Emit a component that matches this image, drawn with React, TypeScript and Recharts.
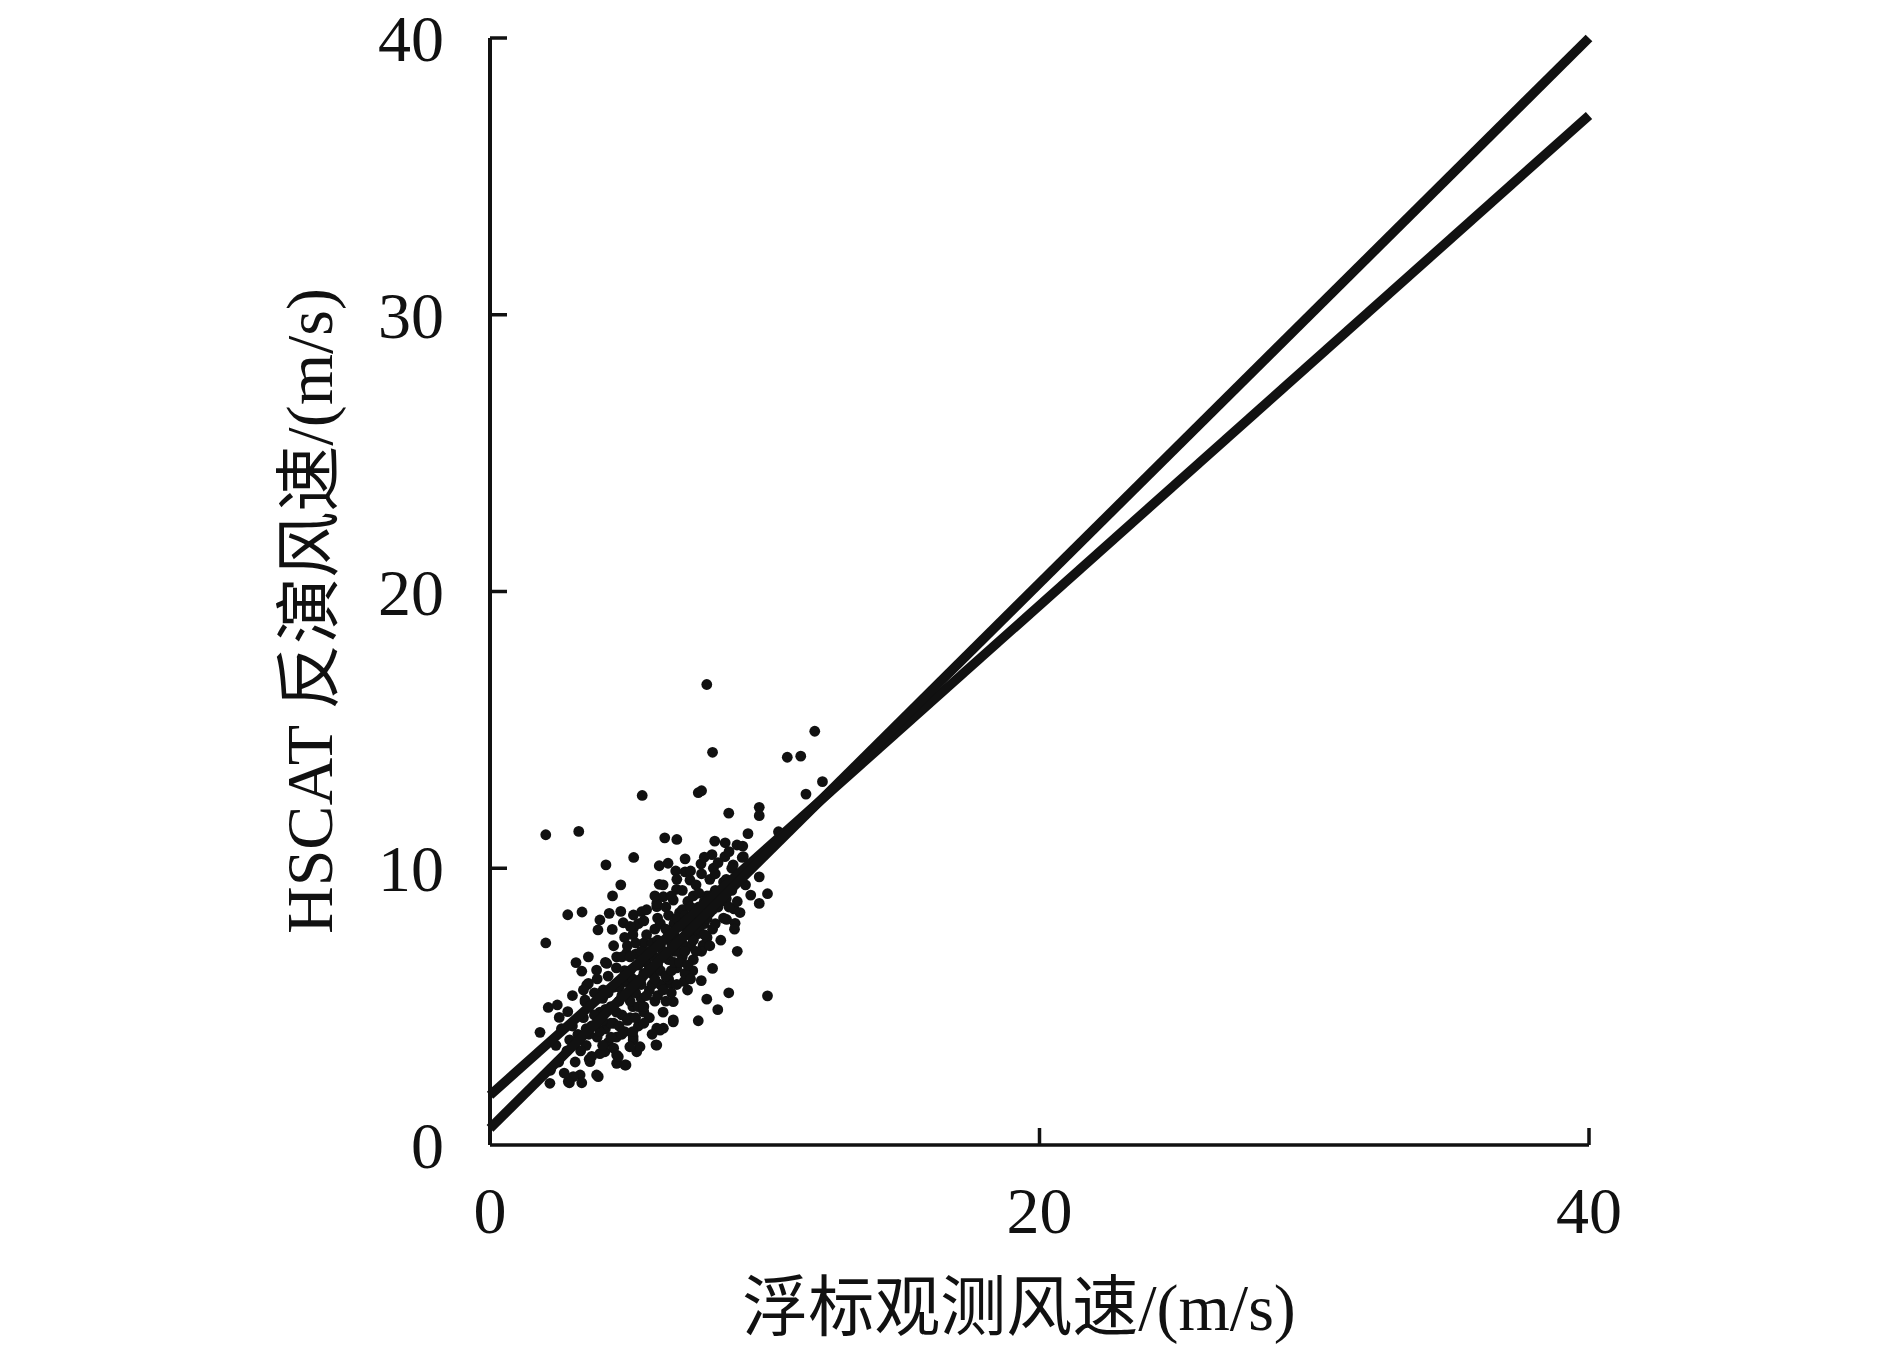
import { ScatterChart, Scatter, XAxis, YAxis, Label } from 'recharts';

// 浮标 vs HSCAT 风速散点 (x, y) — 读图估计
const outerPoints: [number, number][] = [
  [7.89, 16.64], [8.1, 14.19], [11.82, 14.95], [10.82, 14.01], [11.31, 14.05], [12.1, 13.13],
  [11.5, 12.68], [5.54, 12.63], [7.58, 12.73], [7.7, 12.8], [8.69, 11.99], [9.8, 12.2],
  [9.8, 11.9], [2.03, 11.21], [3.23, 11.33], [6.36, 11.1], [6.8, 11.04], [9.39, 11.25],
  [10.5, 11.32], [4.22, 10.12], [5.23, 10.39], [7.1, 10.34], [8.18, 10.98], [8.56, 10.92],
  [8.99, 10.84], [9.18, 10.39], [7.68, 10.16], [8.08, 10.49], [6.16, 10.09], [6.48, 10.18],
  [6.76, 9.9], [4.76, 9.4], [4.46, 9.0], [6.16, 9.42], [6.79, 9.24], [2.83, 8.32],
  [3.35, 8.42], [2.03, 7.3], [9.8, 9.69], [9.49, 9.03], [10.1, 9.08], [9.8, 8.73],
  [8.88, 8.53], [8.61, 8.15], [8.92, 8.01], [4.0, 8.13], [4.34, 8.37], [4.76, 8.44],
  [4.85, 8.03], [4.45, 7.79], [3.93, 7.77], [5.22, 8.31], [5.52, 8.43], [5.22, 7.83],
  [6.07, 8.61], [6.07, 8.73], [6.31, 8.97], [6.67, 8.85], [8.55, 10.42], [8.85, 10.12],
  [9.22, 10.42], [8.13, 10.0], [7.1, 9.87], [7.28, 9.57], [7.76, 7.22], [9.0, 7.0],
  [7.76, 7.16], [7.38, 6.3], [8.1, 6.38], [7.69, 5.94], [7.07, 5.91], [7.19, 5.6],
  [8.69, 5.5], [10.1, 5.39], [7.89, 5.27], [8.29, 4.89], [7.58, 4.49], [6.67, 5.18],
  [6.67, 4.45], [6.31, 4.22], [6.07, 4.22], [6.04, 3.62], [5.34, 3.37], [5.21, 3.79],
  [4.61, 2.95], [4.95, 2.89], [4.18, 3.37], [4.61, 3.25], [3.61, 3.1], [3.88, 2.53],
  [3.28, 2.53], [2.89, 2.25], [3.34, 2.25], [2.18, 2.23], [2.12, 4.97], [2.45, 5.06],
  [2.52, 4.61], [2.83, 4.82], [1.82, 4.07], [3.13, 6.59], [3.58, 6.8], [3.34, 6.28],
  [3.52, 5.78], [3.46, 5.24], [4.0, 5.48], [3.88, 6.32], [4.25, 6.56], [4.61, 6.8],
  [4.97, 6.93], [3.46, 5.18], [3.58, 5.84], [4.12, 5.6], [4.49, 5.0], [3.64, 3.01],
  [3.94, 2.47], [3.03, 2.47], [2.85, 2.29], [4.67, 3.19], [4.91, 2.89], [5.21, 3.91],
  [5.46, 3.55], [5.09, 3.55], [6.07, 3.61], [6.19, 4.15], [6.67, 4.52], [6.55, 5.84],
];

const corePoints: [number, number][] = [
  [3.2, 4.0], [3.4, 4.6], [3.5, 3.6], [3.6, 5.0], [3.7, 4.3], [3.8, 5.5], [3.9, 3.9], [3.9, 6.0],
  [4.0, 4.8], [4.0, 3.3], [4.1, 5.3], [4.2, 4.2], [4.3, 6.1], [4.3, 3.7], [4.4, 5.0], [4.5, 5.7],
  [4.5, 4.4], [4.6, 6.4], [4.6, 3.9], [4.7, 5.2], [4.8, 4.7], [4.8, 6.8], [4.9, 5.9], [4.9, 4.1],
  [5.0, 7.2], [5.0, 5.4], [5.1, 6.3], [5.1, 4.6], [5.2, 7.6], [5.2, 5.0], [5.3, 5.8], [5.3, 6.9],
  [5.4, 4.3], [5.4, 8.0], [5.5, 6.0], [5.5, 5.3], [5.6, 7.3], [5.6, 4.8], [5.7, 6.6], [5.7, 8.5],
  [5.8, 5.6], [5.8, 7.0], [5.9, 6.2], [5.9, 4.0], [6.0, 7.8], [6.0, 5.2], [6.0, 9.0], [6.1, 6.5],
  [6.1, 8.2], [6.2, 5.8], [6.2, 7.2], [6.3, 4.8], [6.3, 9.4], [6.4, 6.9], [6.4, 8.6], [6.5, 6.0],
  [6.5, 7.6], [6.6, 5.5], [6.6, 9.0], [6.7, 7.0], [6.7, 8.0], [6.8, 6.4], [6.8, 9.6], [6.9, 7.4],
  [6.9, 8.4], [7.0, 6.8], [7.0, 9.2], [7.1, 7.9], [7.1, 6.2], [7.2, 8.8], [7.3, 7.2], [7.3, 9.9],
  [7.4, 8.2], [7.4, 6.7], [7.5, 9.4], [7.5, 7.6], [7.6, 8.6], [7.7, 7.0], [7.7, 9.8], [7.8, 8.0],
  [7.8, 10.4], [7.9, 9.0], [7.9, 7.5], [8.0, 8.4], [8.0, 9.6], [8.1, 7.8], [8.2, 9.2], [8.3, 10.2],
  [8.3, 8.6], [8.4, 7.4], [8.5, 9.5], [8.6, 8.9], [8.7, 10.6], [8.8, 9.2], [8.9, 7.8], [9.0, 9.8],
  [9.1, 8.4], [9.2, 10.8], [2.6, 4.2], [2.8, 3.4], [3.0, 5.4], [3.1, 3.0], [2.5, 3.0], [2.2, 2.7],
];

const densePoints: [number, number][] = [
  [3.3, 3.4], [3.5, 4.2], [3.7, 3.2], [3.8, 4.7], [4.0, 4.1], [4.1, 3.6], [4.2, 4.9], [4.3, 5.5],
  [4.4, 4.4], [4.5, 3.5], [4.6, 4.8], [4.7, 5.7], [4.7, 4.3], [4.8, 5.4], [4.9, 6.3], [5.0, 4.5],
  [5.0, 5.9], [5.1, 5.2], [5.1, 6.8], [5.2, 4.1], [5.2, 6.0], [5.3, 5.5], [5.3, 7.3], [5.4, 5.0],
  [5.4, 6.5], [5.5, 5.8], [5.5, 7.0], [5.6, 6.2], [5.6, 5.0], [5.7, 5.4], [5.7, 7.6], [5.8, 6.4],
  [5.8, 4.6], [5.9, 5.8], [5.9, 7.3], [6.0, 6.0], [6.0, 6.8], [6.1, 5.4], [6.1, 7.4], [6.2, 6.3],
  [6.2, 8.0], [6.3, 5.6], [6.3, 7.0], [6.4, 6.1], [6.4, 7.8], [6.5, 6.7], [6.5, 8.3], [6.6, 6.3],
  [6.6, 7.3], [6.7, 6.6], [6.7, 7.6], [6.8, 7.0], [6.8, 8.2], [6.9, 6.6], [6.9, 7.9], [7.0, 7.3],
  [7.0, 8.5], [7.1, 7.0], [7.1, 8.3], [7.2, 7.6], [7.2, 6.5], [7.3, 8.0], [7.3, 8.6], [7.4, 7.4],
  [7.4, 9.0], [7.5, 8.0], [7.5, 7.0], [7.6, 7.8], [7.6, 9.1], [7.7, 8.3], [7.8, 7.6], [7.8, 8.8],
  [7.9, 8.2], [8.0, 7.2], [8.0, 9.0], [8.1, 8.5], [8.2, 8.0], [8.2, 9.8], [8.4, 8.8], [8.5, 8.2],
  [8.6, 9.6], [8.7, 8.6], [8.8, 10.0], [9.0, 8.8], [9.3, 9.4], [3.6, 4.0], [3.9, 4.4], [4.1, 4.5],
  [4.4, 3.9], [4.8, 4.0], [5.3, 4.6], [5.6, 4.4], [6.4, 5.2], [6.8, 5.8], [7.3, 6.0], [4.2, 6.6],
  [4.5, 7.2], [4.9, 7.5], [5.1, 7.9], [5.6, 8.1], [3.0, 4.3], [3.4, 5.6], [2.9, 3.8], [2.7, 2.6],
  [2.4, 3.6],
];

// 两条拟合线
const fitA = [{ x: 0, y: 1.8 }, { x: 40, y: 37.2 }];
const fitB = [{ x: 0, y: 0.6 }, { x: 40, y: 40 }];

const xTicks = [0, 20, 40];
const yTicks = [0, 10, 20, 30, 40];

const xTitle = '浮标观测风速/(m/s)';
const yTitle = 'HSCAT 反演风速/(m/s)';

const INK = '#111';
const FONT = "'Liberation Serif', 'Times New Roman', 'Noto Sans CJK SC', serif";

const points = [...outerPoints, ...corePoints, ...densePoints].map(([x, y]) => ({ x, y }));

const XTick = (props: any) => {
  const { x, y, payload } = props;
  return (
    <g>
      {payload.value !== 0 && <line x1={x} y1={y} x2={x} y2={y - 17} stroke={INK} strokeWidth={3.5} />}
      <text x={x} y={y + 88} textAnchor="middle" fontSize={66} fontFamily={FONT} fill={INK}>
        {payload.value}
      </text>
    </g>
  );
};

const YTick = (props: any) => {
  const { x, y, payload } = props;
  return (
    <g>
      {payload.value !== 0 && <line x1={x} y1={y} x2={x + 17} y2={y} stroke={INK} strokeWidth={3.5} />}
      <text x={x - 46} y={y + 23} textAnchor="end" fontSize={66} fontFamily={FONT} fill={INK}>
        {payload.value}
      </text>
    </g>
  );
};

const noDot = () => <g />;

export default function App() {
  return (
    <div style={{ position: 'absolute', left: 0, top: 0, width: 1890, height: 1346, background: '#fff' }}>
      <ScatterChart width={1890} height={1346} margin={{ top: 38, right: 301, bottom: 81, left: 400 }}>
        <XAxis
          type="number"
          dataKey="x"
          domain={[0, 40]}
          ticks={xTicks}
          height={120}
          tickSize={0}
          tickMargin={0}
          tickLine={false}
          axisLine={{ stroke: INK, strokeWidth: 3.5 }}
          tick={XTick}
          interval={0}
        >
          <Label
            content={() => (
              <text x={1019} y={1330} textAnchor="middle" fontSize={66} fontFamily={FONT} fill={INK}>
                {xTitle}
              </text>
            )}
          />
        </XAxis>
        <YAxis
          type="number"
          dataKey="y"
          domain={[0, 40]}
          ticks={yTicks}
          width={90}
          tickSize={0}
          tickMargin={0}
          tickLine={false}
          axisLine={{ stroke: INK, strokeWidth: 4 }}
          tick={YTick}
          interval={0}
        >
          <Label
            content={() => (
              <text
                x={309}
                y={611}
                transform="rotate(-90 309 611)"
                textAnchor="middle"
                dominantBaseline="central"
                fontSize={66}
                fontFamily={FONT}
                fill={INK}
              >
                {yTitle}
              </text>
            )}
          />
        </YAxis>
        <Scatter data={points} fill={INK} shape={(p: any) => <circle cx={p.cx} cy={p.cy} r={5.4} fill={INK} />} isAnimationActive={false} />
        <Scatter data={fitA} line={{ stroke: INK, strokeWidth: 9.5 }} shape={noDot} isAnimationActive={false} />
        <Scatter data={fitB} line={{ stroke: INK, strokeWidth: 9.5 }} shape={noDot} isAnimationActive={false} />
      </ScatterChart>
    </div>
  );
}
